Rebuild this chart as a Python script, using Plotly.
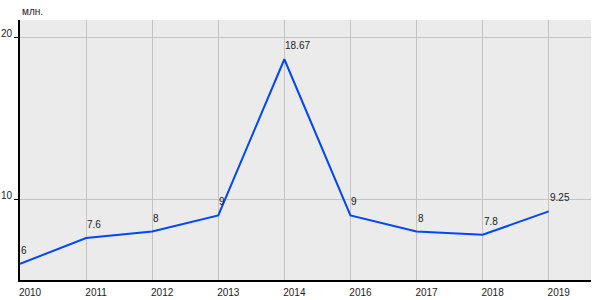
import plotly.graph_objects as go

years = ["2010", "2011", "2012", "2013", "2014", "2016", "2017", "2018", "2019"]
values = [6, 7.6, 8, 9, 18.67, 9, 8, 7.8, 9.25]
labels = ["6", "7.6", "8", "9", "18.67", "9", "8", "7.8", "9.25"]
unit_label = "млн."

font_family = "Liberation Sans, Arial, sans-serif"

fig = go.Figure()
fig.add_trace(go.Scatter(
    x=years, y=values, mode="lines",
    line=dict(color="#0046ff", width=2),
    hoverinfo="skip",
))

# category axis: annotation x given as the category index
annotations = [
    dict(x=i, y=yv, text=t, xref="x", yref="y",
         xanchor="left", yanchor="bottom", xshift=-1, yshift=6,
         showarrow=False, font=dict(size=10, color="#222"))
    for i, (yv, t) in enumerate(zip(values, labels))
]
annotations.append(dict(
    text=unit_label, xref="paper", yref="paper",
    x=0, y=1, xanchor="left", yanchor="bottom", yshift=1,
    showarrow=False, font=dict(size=10, color="#222"),
))

fig.update_layout(
    width=600, height=300,
    margin=dict(l=20, r=9, t=20, b=20),
    paper_bgcolor="white",
    plot_bgcolor="#ebebeb",
    showlegend=False,
    font=dict(family=font_family, size=10, color="#222"),
    xaxis=dict(
        type="category",
        range=[0, 8.64],
        automargin=False,
        showgrid=True, gridcolor="#c4c4c4", gridwidth=1,
        showline=True, linecolor="black", linewidth=2,
        ticks="", ticklabelshift=10, ticklabelstandoff=2,
        zeroline=False,
        tickfont=dict(size=10),
    ),
    yaxis=dict(
        range=[5, 21.1],
        tickvals=[10, 20],
        automargin=False,
        showgrid=True, gridcolor="#c4c4c4", gridwidth=1,
        showline=True, linecolor="black", linewidth=2,
        ticks="outside", ticklen=4, tickcolor="black",
        ticklabelshift=-4, ticklabelstandoff=0,
        zeroline=False,
        tickfont=dict(size=10),
    ),
    annotations=annotations,
)

fig.write_html("out.html")
